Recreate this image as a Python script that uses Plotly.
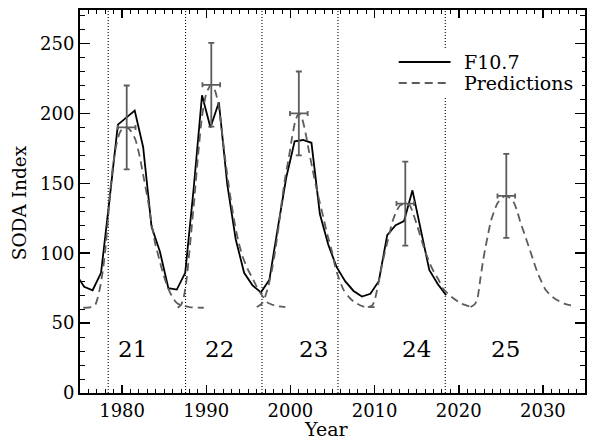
import plotly.graph_objects as go

# ---------------- data ----------------
f107_years = [1974.5, 1975.5, 1976.5, 1977.5, 1978.5, 1979.5, 1980.5, 1981.5, 1982.5,
              1983.5, 1984.5, 1985.5, 1986.5, 1987.5, 1988.5, 1989.5, 1990.5, 1991.5,
              1992.5, 1993.5, 1994.5, 1995.5, 1996.5, 1997.5, 1998.5, 1999.5, 2000.5,
              2001.5, 2002.5, 2003.5, 2004.5, 2005.5, 2006.5, 2007.5, 2008.5, 2009.5,
              2010.5, 2011.5, 2012.5, 2013.5, 2014.5, 2015.5, 2016.5, 2017.5, 2018.5]
f107_vals = [85, 76, 73.5, 86, 138, 192, 197, 202, 176,
             119, 101, 75, 74, 86, 146, 213, 190, 208,
             149, 110, 86, 77, 72, 81, 118, 154, 180,
             181, 179, 128, 106, 90, 80, 73, 69, 71,
             80, 113, 120, 123, 145, 117, 88, 78, 70]

pred21_x = [1975.4, 1976.3, 1976.8, 1977.1, 1977.4, 1977.7, 1978.0, 1978.3, 1978.6, 1978.9,
            1979.3, 1979.7, 1980.1, 1980.6, 1981.1, 1981.6, 1982.1, 1982.6, 1983.1, 1983.5,
            1983.9, 1984.4, 1984.9, 1985.4, 1985.9, 1986.4, 1986.9, 1988.0, 1989.7]
pred21_y = [61, 61.5, 63, 68, 76, 87, 102, 122, 145, 162,
            177, 186, 189.5, 190, 187, 181, 169, 153, 137, 121,
            108, 96, 85, 76, 69.5, 65, 63, 61.5, 61]

pred22_x = [1986.6, 1987.0, 1987.3, 1987.6, 1987.9, 1988.2, 1988.6, 1989.0, 1989.5, 1990.0,
            1990.55, 1991.0, 1991.4, 1991.8, 1992.3, 1992.8, 1993.3, 1993.8, 1994.3, 1994.9,
            1995.5, 1996.0, 1996.5, 1997.2, 1998.2, 1999.4]
pred22_y = [61, 63, 68, 78, 95, 114, 140, 168, 198, 214,
            220.5, 217, 208, 190, 165, 143, 124, 109, 98, 89,
            82, 76, 71, 65, 62.5, 61.5]

pred23_x = [1996.0, 1996.6, 1997.0, 1997.4, 1997.8, 1998.2, 1998.6, 1999.0, 1999.4, 1999.8,
            2000.2, 2000.6, 2001.0, 2001.4, 2001.8, 2002.2, 2002.6, 2003.0, 2003.5, 2003.9,
            2004.4, 2004.9, 2005.3, 2005.7, 2006.3, 2006.9, 2007.5, 2008.6, 2010.0]
pred23_y = [61.5, 64, 69, 77, 88, 102, 119, 138, 155, 168,
            183, 195, 200, 196, 186, 173, 161, 149, 136, 126,
            113, 102, 91, 83, 74, 69, 65.5, 62, 61.4]

pred24_x = [2009.2, 2009.7, 2010.0, 2010.3, 2010.6, 2011.0, 2011.4, 2011.8, 2012.2, 2012.6,
            2013.0, 2013.6, 2014.2, 2014.6, 2015.1, 2015.6, 2016.1, 2016.6, 2017.1, 2017.6,
            2018.1, 2019.1, 2020.3, 2021.25]
pred24_y = [61.5, 62.5, 66, 74, 83, 95, 105, 115, 124, 130,
            134, 135.5, 134, 128, 119, 109, 100, 92, 86, 81,
            75, 69, 64, 62]

pred25_x = [2021.4, 2021.9, 2022.2, 2022.6, 2022.9, 2023.2, 2023.5, 2023.8, 2024.2, 2024.6,
            2025.1, 2025.6, 2026.1, 2026.6, 2027.0, 2027.3, 2027.8, 2028.3, 2028.8, 2029.3,
            2029.8, 2030.3, 2030.8, 2031.3, 2032.0, 2032.7, 2033.8]
pred25_y = [61.5, 63.5, 67, 83, 95, 105, 114, 122.6, 130, 135.7,
            139.5, 141, 139.5, 135.7, 129, 122.6, 114, 105, 96, 87,
            80, 74, 70.5, 68, 65.5, 63.6, 62]

peak_years = [1980.55, 1990.6, 2001.0, 2013.65, 2025.65]
peak_vals = [190, 220.5, 200, 135.5, 141]
peak_yerr = [30, 30, 30, 30, 30]
peak_xerr = [1.05, 1.05, 1.05, 1.05, 1.05]

cycle_bounds = [1978.35, 1987.54, 1996.62, 2005.65, 2018.4]
cycle_labels = ["21", "22", "23", "24", "25"]
cycle_label_x = [1981.2, 1991.55, 2002.75, 2015.0, 2025.5]
cycle_label_y = 31.5

legend_labels = ["F10.7", "Predictions"]

x_range = [1975, 2035]
y_range = [0, 274]

# ---------------- figure ----------------
FONT = "DejaVu Serif"
GRAY = "#5c5c5c"
W, H = 592, 442
ML, MR, MT, MB = 80, 5, 10, 49
PW, PH = W - ML - MR, H - MT - MB


def px_to_paper(px, py):
    return (px - ML) / PW, (H - MB - py) / PH


pred_x, pred_y = [], []
for xs, ys in [(pred21_x, pred21_y), (pred22_x, pred22_y), (pred23_x, pred23_y),
               (pred24_x, pred24_y), (pred25_x, pred25_y)]:
    pred_x += xs + [None]
    pred_y += ys + [None]

SOLID = dict(color="black", width=1.8)
DASHED = dict(color=GRAY, width=1.8, dash="8px,5px")

fig = go.Figure()
fig.add_trace(go.Scatter(x=f107_years, y=f107_vals, mode="lines", name=legend_labels[0],
                         showlegend=False, line=SOLID, hoverinfo="skip"))
fig.add_trace(go.Scatter(x=pred_x, y=pred_y, mode="lines", name=legend_labels[1],
                         showlegend=False, connectgaps=False, hoverinfo="skip",
                         line=dict(DASHED, shape="spline", smoothing=0.6)))
fig.add_trace(go.Scatter(x=peak_years, y=peak_vals, mode="markers", showlegend=False,
                         hoverinfo="skip",
                         marker=dict(size=1, color="rgba(0,0,0,0)"),
                         error_y=dict(type="data", array=peak_yerr, color=GRAY,
                                      thickness=1.8, width=3),
                         error_x=dict(type="data", array=peak_xerr, color=GRAY,
                                      thickness=1.8, width=2.5)))

for xb in cycle_bounds:
    fig.add_shape(type="line", x0=xb, x1=xb, y0=0, y1=1, xref="x", yref="paper",
                  line=dict(color="black", width=1.1, dash="1px,2px"), layer="below")

for lab, lx in zip(cycle_labels, cycle_label_x):
    fig.add_annotation(x=lx, y=cycle_label_y, text=lab, showarrow=False,
                       font=dict(family=FONT, size=23, color="black"))

# legend box (drawn by hand so the line samples match the original length)
bx0, by0 = px_to_paper(394, 98)
bx1, by1 = px_to_paper(584, 48)
fig.add_shape(type="rect", xref="paper", yref="paper", x0=bx0, x1=bx1, y0=by0, y1=by1,
              fillcolor="white", line=dict(width=0), layer="above")
for i, (lab, style) in enumerate(zip(legend_labels, [SOLID, DASHED])):
    ly = 62 + 21 * i
    lx0, lyp = px_to_paper(400, ly)
    lx1, _ = px_to_paper(452, ly)
    fig.add_shape(type="line", xref="paper", yref="paper", x0=lx0, x1=lx1, y0=lyp, y1=lyp,
                  line=style, layer="above")
    tx, _ = px_to_paper(464, ly)
    fig.add_annotation(xref="paper", yref="paper", x=tx, y=lyp, text=lab, showarrow=False,
                       xanchor="left", yanchor="middle",
                       font=dict(family=FONT, size=19, color="black"))

# axis titles
tx, ty = px_to_paper(327, 429)
fig.add_annotation(xref="paper", yref="paper", x=tx, y=ty, text="Year", showarrow=False,
                   xanchor="center", yanchor="middle",
                   font=dict(family=FONT, size=19, color="black"))
tx, ty = px_to_paper(19, 203)
fig.add_annotation(xref="paper", yref="paper", x=tx, y=ty, text="SODA Index", showarrow=False,
                   textangle=-90, xanchor="center", yanchor="middle",
                   font=dict(family=FONT, size=18.5, color="black"))

axis_common = dict(showgrid=False, zeroline=False, showline=True, linecolor="black",
                   linewidth=2, mirror="ticks", ticks="inside", tickcolor="black",
                   tickwidth=1.5, tickfont=dict(family=FONT, size=18, color="black"))

fig.update_xaxes(range=x_range, tickmode="linear", tick0=1980, dtick=10, ticklen=8,
                 minor=dict(ticks="inside", tick0=1980, dtick=1, ticklen=4,
                            tickcolor="black", tickwidth=1),
                 **axis_common)
fig.update_yaxes(range=y_range, tickmode="linear", tick0=0, dtick=50, ticklen=10,
                 minor=dict(ticks="inside", tick0=0, dtick=10, ticklen=5,
                            tickcolor="black", tickwidth=1),
                 **axis_common)

fig.update_layout(
    width=W, height=H,
    margin=dict(l=ML, r=MR, t=MT, b=MB),
    plot_bgcolor="white", paper_bgcolor="white",
    font=dict(family=FONT, size=17, color="black"),
    showlegend=False,
    hovermode=False,
)

fig.write_html("out.html",
               config={"displayModeBar": False, "staticPlot": True},
               post_script="document.body.style.margin='0';document.body.style.overflow='hidden';")
